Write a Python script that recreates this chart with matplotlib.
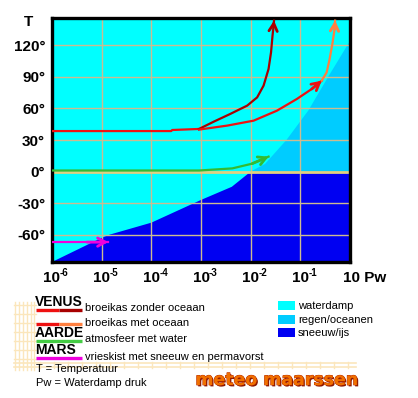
import numpy as np
import matplotlib
matplotlib.use("Agg")
import matplotlib.pyplot as plt
from matplotlib.patches import Polygon, Rectangle
import matplotlib.patheffects as pe

# ---------------- data (log10 Pw, T in degrees C) ----------------
ice_logp = [-6.0, -5.0, -4.84, -4.0, -3.0, -2.38, -2.04, -2.0]
ice_T    = [-86, -63, -60, -48.6, -27, -14.5, -1.6, 0]
rain_logp = [-2.0, -1.71, -1.28, -0.84, -0.44, -0.08, 0.0]
rain_T    = [0, 7.3, 30, 58, 90, 118, 124]

venus_common_logp = [-6.0, -3.6, -3.58, -3.04]
venus_common_T    = [38.5, 38.5, 39.5, 40.5]
venus_dry_logp = [-3.04, -2.74, -2.41, -2.07, -1.87, -1.74, -1.64, -1.59, -1.56, -1.54, -1.53]
venus_dry_T    = [40.5, 47.5, 54.8, 62.7, 70.5, 81.7, 97.5, 113.3, 129.1, 138, 143.5]
venus_wet_logp = [-3.04, -2.47, -1.94, -1.47, -1.07, -0.77, -0.57]
venus_wet_T    = [39.9, 43.7, 48.4, 57.9, 69.0, 78.5, 86.4]
venus_hot_logp = [-0.57, -0.47, -0.41, -0.35, -0.31, -0.30]
venus_hot_T    = [86.4, 94.3, 107, 122.8, 135.5, 143.5]
earth_logp = [-6.0, -3.5, -3.04, -2.37, -1.97, -1.64]
earth_T    = [1.0, 1.0, 1.0, 3.0, 7.5, 14.2]
mars_logp = [-6.0, -4.87]
mars_T    = [-67.1, -67.1]

yticks = [-60, -30, 0, 30, 60, 90, 120]
ytick_labels = ["-60°", "-30°", "0°", "30°", "60°", "90°", "120°"]
xticks_exp = [-6, -5, -4, -3, -2, -1]
xtick_sup = ["-6", "-5", "-4", "-3", "-2", "-1"]

C_VAPOR = "#00FFFF"
C_RAIN = "#00CCFF"
C_ICE = "#0000F2"
C_RED = "#EE1111"
C_DARKRED = "#A80000"
C_ORANGE = "#FF8040"
C_GREEN = "#33BB33"
C_MAGENTA = "#EE00DD"
C_GRID = "#CDBB90"

W, H = 418, 398
fig = plt.figure(figsize=(W / 100, H / 100), dpi=100)
fig.patch.set_facecolor("white")
plt.rcParams["font.family"] = ["Liberation Sans", "DejaVu Sans"]

# pixel-coordinate overlay axes for decorations/legend
bg = fig.add_axes([0, 0, 1, 1], zorder=0)
bg.set_xlim(0, W)
bg.set_ylim(H, 0)
bg.axis("off")

# main axes
L, R, T, B = 52, 350, 18, 262
ax = fig.add_axes([L / W, 1 - B / H, (R - L) / W, (B - T) / H], zorder=2)
ax.set_xlim(-6, 0)
ax.set_ylim(-86, 146)
ax.set_facecolor(C_VAPOR)

ice_poly = list(zip(ice_logp, ice_T)) + [(0, 0), (0, -86)]
ax.add_patch(Polygon(ice_poly, closed=True, facecolor=C_ICE, edgecolor="none", zorder=1))
rain_poly = list(zip(rain_logp, rain_T)) + [(0, 0)]
ax.add_patch(Polygon(rain_poly, closed=True, facecolor=C_RAIN, edgecolor="none", zorder=1))

for xv in xticks_exp[1:]:
    ax.axvline(xv, color=C_GRID, lw=1.0, zorder=2)
for yv in yticks:
    ax.axhline(yv, color=("#E0D080" if yv == 0 else C_GRID),
               lw=(2.0 if yv == 0 else 1.0), zorder=2)

lw = 1.6
ax.plot(venus_common_logp, venus_common_T, color=C_RED, lw=lw, zorder=4)
ax.plot(venus_dry_logp, venus_dry_T, color=C_DARKRED, lw=lw, zorder=4)
ax.plot(venus_wet_logp, venus_wet_T, color=C_RED, lw=lw, zorder=4)
ax.plot(venus_hot_logp, venus_hot_T, color=C_ORANGE, lw=lw, zorder=4)
ax.plot(earth_logp, earth_T, color=C_GREEN, lw=lw, zorder=4)
ax.plot(mars_logp, mars_T, color=C_MAGENTA, lw=lw, zorder=4)

def arrow(xs, ys, color):
    ax.annotate("", xy=(xs[-1], ys[-1]), xytext=(xs[-2], ys[-2]),
                arrowprops=dict(arrowstyle="->,head_length=0.55,head_width=0.3",
                                color=color, lw=2.0, shrinkA=0, shrinkB=0),
                zorder=5, annotation_clip=False)

arrow(venus_dry_logp, venus_dry_T, C_DARKRED)
arrow(venus_wet_logp, venus_wet_T, C_RED)
arrow(venus_hot_logp, venus_hot_T, C_ORANGE)
arrow(earth_logp, earth_T, C_GREEN)
arrow([-5.3, -4.87], mars_T, C_MAGENTA)

ax.set_yticks(yticks)
ax.set_yticklabels(ytick_labels, fontsize=11, fontweight="bold")
ax.set_xticks(xticks_exp)
ax.set_xticklabels([])
ax.tick_params(length=0, pad=5)
for s in ax.spines.values():
    s.set_linewidth(2.4)
    s.set_color("black")
ax.grid(False)

# x tick labels: "10" with small superscript exponent
for e, sup in zip(xticks_exp, xtick_sup):
    px = L + (e + 6) * (R - L) / 6.0
    bg.text(px, 278, "10", fontsize=11, fontweight="bold", ha="center", va="center")
    bg.text(px + 8, 273, sup, fontsize=7, fontweight="bold", ha="left", va="center")

bg.text(29, 22, "T", fontsize=11, fontweight="bold", ha="center", va="center")
bg.text(343, 278, "10 Pw", fontsize=11, fontweight="bold", ha="left", va="center")

# decorative tan lattice
C_DECO = "#FBE6BC"
for xv in [15, 19, 23, 27, 31, 34]:
    bg.plot([xv, xv], [302, 370], color=C_DECO, lw=1.0, zorder=0)
for yv in [305, 314, 323, 332, 341, 350, 359]:
    bg.plot([14, 36], [yv, yv], color=C_DECO, lw=1.0, zorder=0)
for yv in [363, 367]:
    bg.plot([14, 356], [yv, yv], color=C_DECO, lw=1.2, zorder=0)
for xv in range(40, 356, 14):
    bg.plot([xv, xv], [362, 368], color=C_DECO, lw=1.0, zorder=0)

# legend lines
bg.plot([36, 59], [310, 310], color=C_RED, lw=2.4, solid_capstyle="butt")
bg.plot([59, 82], [310, 310], color=C_DARKRED, lw=2.4, solid_capstyle="butt")
bg.plot([36, 59], [324, 324], color=C_RED, lw=2.4, solid_capstyle="butt")
bg.plot([59, 82], [324, 324], color=C_ORANGE, lw=2.4, solid_capstyle="butt")
bg.plot([36, 82], [341, 341], color="#44CC44", lw=2.4, solid_capstyle="butt")
bg.plot([36, 82], [358, 358], color=C_MAGENTA, lw=2.4, solid_capstyle="butt")

bg.text(35, 302, "VENUS", fontsize=10, fontweight="bold", ha="left", va="center")
bg.text(35, 333, "AARDE", fontsize=10, fontweight="bold", ha="left", va="center")
bg.text(35, 350, "MARS", fontsize=10, fontweight="bold", ha="left", va="center")
small = 8
bg.text(85, 308, "broeikas zonder oceaan", fontsize=small, ha="left", va="center")
bg.text(85, 323, "broeikas met oceaan", fontsize=small, ha="left", va="center")
bg.text(85, 339, "atmosfeer met water", fontsize=small, ha="left", va="center")
bg.text(85, 357, "vrieskist met sneeuw en permavorst", fontsize=small, ha="left", va="center")
bg.text(36, 369, "T = Temperatuur", fontsize=small, ha="left", va="center")
bg.text(36, 383, "Pw = Waterdamp druk", fontsize=small, ha="left", va="center")

for (yy, col, lab) in [(301, C_VAPOR, "waterdamp"), (315, C_RAIN, "regen/oceanen"),
                       (328, C_ICE, "sneeuw/ijs")]:
    bg.add_patch(Rectangle((278, yy), 17, 9, facecolor=col, edgecolor="none"))
    bg.text(298, yy + 5, lab, fontsize=small, ha="left", va="center")

bg.text(277, 380, "meteo maarssen", fontsize=12.5, fontweight="heavy",
        family="DejaVu Sans", color="#F07000", ha="center", va="center",
        path_effects=[pe.withSimplePatchShadow(offset=(1, -1), shadow_rgbFace="#8B1A00", alpha=1),
                      pe.Stroke(linewidth=0.6, foreground="#B02000"), pe.Normal()])

fig.savefig("out.png", dpi=100)
